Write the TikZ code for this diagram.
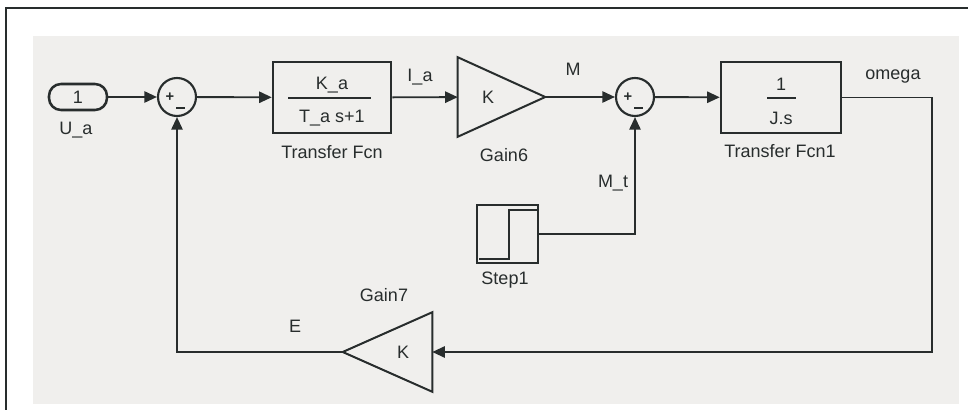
\documentclass[tikz,border=0pt]{standalone}
\usepackage{fontspec}
\setmainfont{Liberation Sans}
\usetikzlibrary{arrows.meta}
\definecolor{ink}{RGB}{40,45,45}
\definecolor{bg}{RGB}{240,239,237}
\begin{document}
\begin{tikzpicture}[x=0.75pt,y=-0.75pt,
  blk/.style={draw=ink, line width=1.9pt, inner sep=0pt},
  sumc/.style={draw=ink, line width=1.6pt, circle, minimum size=28.5pt, inner sep=0pt},
  tri/.style={inner sep=0pt, minimum height=59.25pt},
  sig/.style={draw=ink, line width=1.4pt},
  arr/.style={sig, -{Triangle[length=9.5pt,width=8.5pt]}},
  lbl/.style={text=ink, font=\fontsize{13.5}{16}\selectfont, inner sep=0pt},
  sgn/.style={text=ink, font=\fontsize{11}{11}\selectfont\bfseries, inner sep=0pt}]
\path[use as bounding box] (0,0) rectangle (968,410);
\fill[bg] (33,36) rectangle (959,404);
\draw[ink, line width=0.8pt] (6,410) -- (6,8) -- (968,8);

% blocks
\node[blk, rounded corners=9pt, minimum width=43.5pt, minimum height=19.5pt, lbl] (in) at (78,97) {1};
\node[sumc] (s1) at (177,97) {};
\node[blk, minimum width=88.5pt, minimum height=53.25pt] (tf) at (332,97.5) {};
\node[tri, minimum width=65.25pt] (g6) at (501.5,97) {};
\draw[ink, line width=1.5pt] (g6.north west) -- (g6.east) -- (g6.south west) -- cycle;
\node[sumc] (s2) at (635,97) {};
\node[blk, minimum width=90pt, minimum height=53.25pt] (tf1) at (781,97.5) {};
\node[blk, minimum width=45.75pt, minimum height=43.5pt] (st) at (507.5,234) {};
\draw[ink, line width=1.6pt] (479,259) -- (509,259) -- (509,210) -- (537,210);
\node[tri, minimum width=66.75pt] (g7) at (387.5,352) {};
\draw[ink, line width=1.5pt] (g7.north east) -- (g7.west) -- (g7.south east) -- cycle;

% sum signs
\node[sgn] (s1p) at ([shift={(-7,0)}]s1.center) {+};
\draw[ink, line width=1.4pt] ([shift={(-1,11)}]s1.center) -- ([shift={(8,11)}]s1.center);
\node[sgn] (s2p) at ([shift={(-7,0)}]s2.center) {+};
\draw[ink, line width=1.4pt] ([shift={(-1,11)}]s2.center) -- ([shift={(8,11)}]s2.center);

% block contents
\node[lbl] (tfn) at (332,85) {K\_a};
\draw[ink, line width=1.4pt] (288,98) -- (371,98);
\node[lbl] (tfd) at (332,118) {T\_a s+1};
\node[lbl] (tf1n) at (781,84) {1};
\draw[ink, line width=1.4pt] (767,98) -- (796,98);
\node[lbl] (tf1d) at (781,118) {J.s};
\node[lbl] (k6) at (488,97) {K};
\node[lbl] (k7) at (403,352) {K};

% connectors
\coordinate (c1) at (932,352);
\draw[arr] (in) -- (s1);
\draw[arr] (s1) -- (tf);
\draw[arr] (tf) -- (g6);
\draw[arr] (g6.east) -- (s2);
\draw[arr] (s2) -- (tf1);
\draw[arr] (tf1.east) -| (c1) -- (g7.east);
\draw[arr] (g7.west) -| (s1.south);
\draw[arr] (st.east) -| (s2.south);

% labels
\node[lbl] (lua) at (76,130) {U\_a};
\node[lbl] (ltf) at (332,152) {Transfer Fcn};
\node[lbl] (lia) at (420,77) {I\_a};
\node[lbl] (lg6) at (504,155) {Gain6};
\node[lbl] (lm) at (573,69) {M};
\node[lbl] (lmt) at (613,183) {M\_t};
\node[lbl] (lst) at (505,280) {Step1};
\node[lbl] (ltf1) at (780,151) {Transfer Fcn1};
\node[lbl] (lom) at (893,77) {omega};
\node[lbl] (lg7) at (384,295) {Gain7};
\node[lbl] (le) at (295,326) {E};
\end{tikzpicture}
\end{document}
